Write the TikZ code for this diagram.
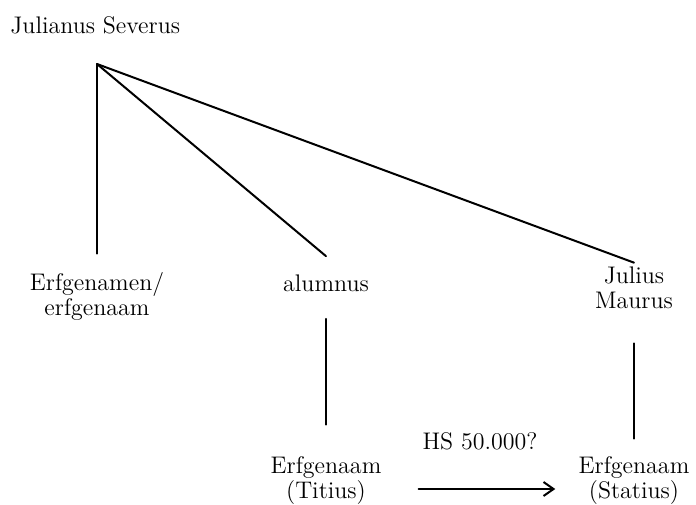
\documentclass[tikz,border=0pt]{standalone}
\usetikzlibrary{arrows.meta}
\begin{document}
\begin{tikzpicture}[x=0.5pt,y=-0.5pt]
\tikzstyle{myarr}=[-{Straight Barb[length=5pt,width=7pt]}]
\tikzset{
pers/.style={align=center,inner xsep=4pt,inner ysep=9pt,font=\fontsize{12}{12.5}\selectfont},
branch/.style={line width=1pt,line cap=round},
}
\useasboundingbox (0,0) rectangle (696,504);

% TESTATOR
\node[pers,anchor=west,inner sep=0pt] (js) at (10,25) {Julianus Severus};
\coordinate (root) at (97,64);

% HEIRS AND LEGATEES
\node[pers] (erf) at (97,296) {Erfgenamen/\\erfgenaam};
\node[pers] (alu) at (326,283) {alumnus};
\node[pers,inner ysep=2pt] (jm) at (634,288) {Julius\\Maurus};
\node[pers] (tit) at (326,481) {Erfgenaam\\(Titius)};
\node[pers] (sta) at (634,481) {Erfgenaam\\(Statius)};

% BRANCHES
\draw[branch] (root) -- (erf.north);
\draw[branch] (root) -- (alu.north);
\draw[branch] (root) -- (jm.north);
\draw[branch,shorten <=4.5pt,shorten >=7pt] (alu.south) -- (tit.north);
\draw[branch,shorten <=15pt] (jm.south) -- (sta.north);

% PAYMENT
\draw[branch,myarr,shorten <=14.5pt,shorten >=7.5pt]
  ([yshift=-4pt]tit.east) -- ([yshift=-4pt]sta.west)
  node[pers,midway,above=19pt,inner sep=0pt] (hs) {HS 50.000?};

\end{tikzpicture}
\end{document}
